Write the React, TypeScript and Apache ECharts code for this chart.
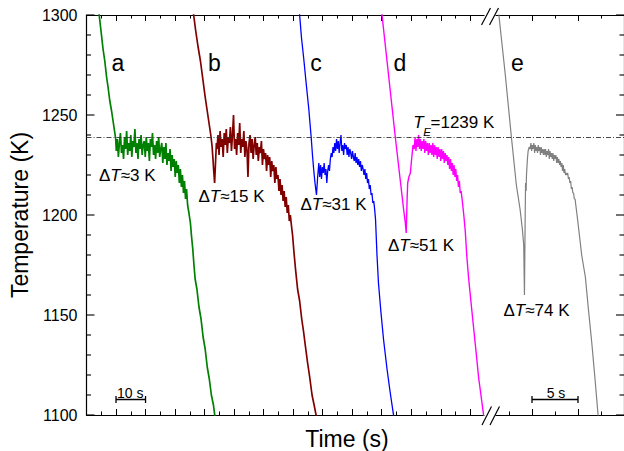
import React, { useEffect, useRef } from "react";
import * as echarts from "echarts";

const FONT = '"Liberation Sans", Arial, Helvetica, sans-serif';

// ---- axes ----
const tempMin = 1100;
const tempMax = 1300;
const tempStep = 50;
const tempTicks = [1100, 1110, 1120, 1130, 1140, 1150, 1160, 1170, 1180, 1190, 1200, 1210, 1220, 1230, 1240, 1250, 1260, 1270, 1280, 1290, 1300];
const leftTimeMax = 140; // s, left section (break at ~135 s)
const leftMajorTicks = [0, 10, 20, 30, 40, 50, 60, 70, 80, 90, 100, 110, 120, 130];
const rightTimeMax = 15; // s, right section after the axis break
const TE = 1239;

// ---- trace a (ΔT≈3 K) ----
const aHead: [number, number][] = [[3.9, 1305], [4.3, 1300], [5.0, 1291], [5.6, 1283], [6.2, 1277], [6.8, 1269], [7.3, 1264], [7.9, 1257], [8.5, 1252], [9.0, 1247], [9.5, 1242], [9.9, 1238]];
const aNoiseStart = 10.1;
const aNoiseStep = 0.35;
const aNoise = [
  1232, 1238, 1229, 1236, 1241, 1231, 1235, 1228, 1239, 1233,
  1242, 1230, 1236, 1232, 1240, 1229, 1237, 1234, 1243, 1231,
  1236, 1228, 1238, 1233, 1240, 1230, 1235, 1237, 1229, 1239,
  1232, 1236, 1227, 1238, 1234, 1241, 1230, 1235, 1228, 1237,
  1231, 1239, 1229, 1233, 1236,
  1226, 1234, 1228, 1236, 1225, 1231, 1227, 1233, 1222, 1230,
  1224, 1228, 1219, 1227, 1221, 1225, 1216, 1223, 1214, 1220,
  1211, 1217, 1208, 1213, 1205,
];
const aTail: [number, number][] = [[34.7, 1201], [35.2, 1196], [35.6, 1189], [36.0, 1183], [36.4, 1175], [36.8, 1168], [37.4, 1163], [38.1, 1154], [38.8, 1148], [39.5, 1139], [40.2, 1133], [40.9, 1124], [41.6, 1118], [42.3, 1110], [43.0, 1105], [43.7, 1097]];

// ---- trace b (ΔT≈15 K) ----
const bHead: [number, number][] = [[36.0, 1304], [36.3, 1300], [37.0, 1292], [37.8, 1284], [38.6, 1277], [39.4, 1268], [40.2, 1259], [41.0, 1251], [41.6, 1245], [42.1, 1240], [42.5, 1235], [42.8, 1229], [43.1, 1222], [43.4, 1216], [43.7, 1226], [44.0, 1236]];
const bNoiseStart = 44.2;
const bNoiseStep = 0.35;
const bNoise = [
  1233, 1240, 1230, 1242, 1234, 1238, 1229, 1241, 1235, 1243,
  1231, 1239, 1236, 1244, 1232, 1240, 1250, 1233, 1238, 1230,
  1241, 1235, 1246, 1231, 1238, 1234, 1242, 1229, 1237, 1233,
  1219, 1236, 1240, 1231, 1238, 1228, 1235, 1239, 1230, 1236,
  1227, 1234, 1231, 1237, 1225, 1233, 1228, 1231, 1222, 1230,
  1225, 1229, 1219, 1227, 1222, 1225, 1216, 1224, 1218, 1220,
  1212, 1218, 1210, 1215, 1207, 1212, 1204, 1209, 1201, 1205,
  1197, 1200, 1195,
];
const bTail: [number, number][] = [[69.8, 1190], [70.3, 1181], [70.8, 1173], [71.5, 1163], [72.2, 1157], [72.9, 1148], [73.5, 1142], [74.1, 1135], [74.9, 1126], [75.6, 1119], [76.4, 1110], [77.1, 1105], [77.9, 1099]];

// ---- trace c (ΔT≈31 K) ----
const cHead: [number, number][] = [[72.0, 1303], [72.2, 1300], [72.8, 1289], [73.6, 1278], [74.4, 1266], [75.3, 1253], [76.1, 1239], [76.6, 1229], [77.0, 1222], [77.4, 1216], [77.9, 1210], [78.3, 1219], [78.7, 1226]];
const cNoiseStart = 79.0;
const cNoiseStep = 0.3;
const cNoise = [
  1219, 1225, 1218, 1224, 1221, 1226, 1220, 1223, 1216, 1222,
  1225, 1222, 1228, 1231, 1229, 1234, 1231, 1236, 1232, 1238,
  1233, 1237, 1231, 1236, 1240, 1232, 1235, 1230, 1236, 1233,
  1235, 1230, 1234, 1229, 1233, 1231, 1228, 1232, 1229, 1227,
  1231, 1226, 1229, 1225, 1228, 1224, 1227, 1222, 1225, 1223,
  1220, 1223, 1218, 1221, 1216, 1218, 1213, 1215, 1210, 1211,
  1206, 1207, 1203,
];
const cTail: [number, number][] = [[97.9, 1198], [98.4, 1180], [98.9, 1166], [99.7, 1152], [100.6, 1138], [101.8, 1123], [102.8, 1112], [104.1, 1099]];

// ---- trace d (ΔT≈51 K) ----
const dHead: [number, number][] = [[99.9, 1302], [100.1, 1300], [104.6, 1239], [107.4, 1203], [108.0, 1196], [108.3, 1191], [108.6, 1208], [108.8, 1216], [109.2, 1219], [109.7, 1221], [110.2, 1229], [110.6, 1235]];
const dNoiseStart = 111.0;
const dNoiseStep = 0.3;
const dNoise = [
  1233, 1239, 1232, 1238, 1234, 1240, 1233, 1238, 1232, 1237,
  1233, 1238, 1231, 1237, 1232, 1236, 1230, 1236, 1231, 1235,
  1230, 1236, 1229, 1235, 1230, 1234, 1228, 1234, 1229, 1233,
  1227, 1233, 1228, 1232, 1226, 1231, 1227, 1230, 1225, 1229,
  1223, 1228, 1222, 1226, 1220, 1225, 1219, 1223, 1217, 1220,
  1214, 1217, 1211, 1212,
];
const dTail: [number, number][] = [[127.3, 1207], [127.8, 1200], [128.3, 1192], [128.8, 1180], [129.4, 1169], [130.2, 1157], [131.1, 1144], [132.0, 1131], [132.8, 1119], [133.7, 1109], [134.6, 1099]];

// ---- trace e (ΔT≈74 K), right section ----
const eHead: [number, number][] = [[1.3, 1303], [1.4, 1300], [2.1, 1270], [2.76, 1239], [3.3, 1215], [3.7, 1203], [3.95, 1193], [4.1, 1185], [4.18, 1160], [4.26, 1200], [4.3, 1216], [4.36, 1212], [4.4, 1220], [4.5, 1228], [4.58, 1232], [4.7, 1234]];
const eNoiseStart = 4.8;
const eNoiseStep = 0.08;
const eNoise = [
  1233, 1236, 1232, 1235, 1233, 1236, 1231, 1235, 1232, 1234,
  1231, 1235, 1232, 1234, 1230, 1234, 1231, 1233, 1230, 1233,
  1230, 1233, 1229, 1232, 1230, 1233, 1228, 1232, 1229, 1231,
  1228, 1231, 1227, 1230, 1228, 1230, 1226, 1229, 1226, 1228,
  1225, 1227, 1224, 1226, 1222, 1225, 1221, 1223, 1220, 1221,
  1220, 1221, 1218, 1219, 1216, 1217, 1213, 1214, 1211, 1211,
  1208, 1208, 1205,
];
const eTail: [number, number][] = [[9.95, 1198], [10.15, 1190], [10.4, 1180], [10.8, 1169], [11.15, 1152], [11.5, 1136], [11.85, 1118], [12.2, 1099]];

// ---- scale bars ----
const scaleBarLeft: [number, number] = [10, 20]; // 10 s
const scaleBarRight: [number, number] = [5, 10]; // 5 s
const scaleBarTemp = 1107.75;

const colors = { a: "#008000", b: "#800000", c: "#0000ff", d: "#ff00ff", e: "#808080" };

type Pt = [number, number];
function build(head: Pt[], start: number, step: number, vals: number[], tail: Pt[]): Pt[] {
  return [
    ...head,
    ...vals.map((v, i) => [Math.round((start + i * step) * 1000) / 1000, v] as Pt),
    ...tail,
  ];
}

const black = "#000";

function txt(x: number, y: number, text: string, size: number, align = "left", extra: any = {}) {
  return {
    type: "text",
    x,
    y,
    z: 100,
    style: {
      text,
      fill: black,
      fontSize: size,
      fontFamily: FONT,
      align,
      textAlign: align,
      verticalAlign: "middle",
      textVerticalAlign: "middle",
      ...extra,
    },
  };
}

function deltaLabel(x: number, y: number, value: string) {
  return txt(x, y, `{n|Δ}{i|T}{n|≈${value} K}`, 17, "left", {
    rich: {
      n: { fontSize: 17, fontFamily: FONT, fill: black },
      i: { fontSize: 17, fontFamily: FONT, fontStyle: "italic", fill: black },
    },
  });
}

export default function App() {
  const ref = useRef<HTMLDivElement>(null);
  useEffect(() => {
    const chart = echarts.init(ref.current!, null, { renderer: "svg" });

    // x ticks point into the plot: negative length
    const xBase = (gridIndex: number, position: string, max: number, interval: number, custom?: number[]) => ({
      type: "value",
      gridIndex,
      position,
      min: 0,
      max,
      interval,
      axisLine: { show: true, onZero: false, lineStyle: { color: black, width: 1.2 } },
      axisTick: {
        show: true,
        length: -6,
        ...(custom ? { customValues: custom } : {}),
      },
      minorTick: { show: true, splitNumber: 2, length: -3.5 },
      axisLabel: { show: false },
      splitLine: { show: false },
      minorSplitLine: { show: false },
    });

    const yMain = (gridIndex: number, position: string, showLabel: boolean) => ({
      type: "value",
      gridIndex,
      position,
      min: tempMin,
      max: tempMax,
      interval: tempStep,
      axisLine: { show: true, onZero: false, lineStyle: { color: black, width: 1.2 } },
      axisTick: { show: false },
      axisLabel: {
        show: showLabel,
        color: black,
        fontSize: 16,
        fontFamily: FONT,
        margin: 9,
        formatter: (v: number) => String(v),
      },
      splitLine: { show: false },
    });

    const trace = (name: string, data: Pt[], color: string, width: number, xi: number, yi: number, extra: any = {}) => ({
      name,
      type: "line",
      xAxisIndex: xi,
      yAxisIndex: yi,
      data,
      symbol: "none",
      showSymbol: false,
      clip: true,
      lineStyle: { color, width },
      itemStyle: { color },
      z: 3,
      ...extra,
    });

    const teMark = {
      silent: true,
      symbol: ["none", "none"],
      label: { show: false },
      lineStyle: { color: "#333", width: 0.9, type: [5, 2, 1, 2] },
      data: [{ yAxis: TE }],
    };

    const scaleBar = (data: Pt[], xi: number, yi: number) => ({
      type: "line",
      xAxisIndex: xi,
      yAxisIndex: yi,
      data,
      symbol: "rect",
      symbolSize: [1.3, 7],
      showSymbol: true,
      lineStyle: { color: black, width: 1.3 },
      itemStyle: { color: black },
      z: 4,
      silent: true,
    });

    const yName = {
      name: "Temperature (K)",
      nameLocation: "middle",
      nameGap: 55,
      nameTextStyle: { fontSize: 23, fontFamily: FONT, color: black },
    };

    const baseGraphics: any[] = [
      // axis breaks
      { type: "rect", z: 90, shape: { x: 484.5, y: 11.5, width: 11, height: 12 }, style: { fill: "#fff" } },
      { type: "rect", z: 90, shape: { x: 484.5, y: 406, width: 11, height: 12 }, style: { fill: "#fff" } },
      { type: "line", z: 91, shape: { x1: 481.5, y1: 25, x2: 490.5, y2: 8 }, style: { stroke: black, lineWidth: 1.2 } },
      { type: "line", z: 91, shape: { x1: 489.5, y1: 25, x2: 498.5, y2: 8 }, style: { stroke: black, lineWidth: 1.2 } },
      { type: "line", z: 91, shape: { x1: 482, y1: 425, x2: 491.5, y2: 406.5 }, style: { stroke: black, lineWidth: 1.2 } },
      { type: "line", z: 91, shape: { x1: 490, y1: 425, x2: 499.5, y2: 406.5 }, style: { stroke: black, lineWidth: 1.2 } },
      // curve letters
      txt(118, 62.5, "a", 23, "center"),
      txt(214.5, 62.5, "b", 23, "center"),
      txt(316, 62.5, "c", 23, "center"),
      txt(400, 62.5, "d", 23, "center"),
      txt(517.5, 62.5, "e", 23, "center"),
      // undercooling labels
      deltaLabel(99, 175.5, "3"),
      deltaLabel(198.5, 196.5, "15"),
      deltaLabel(300.5, 204, "31"),
      deltaLabel(388, 245, "51"),
      deltaLabel(503.5, 310.5, "74"),
      // T_E label
      txt(413.3, 122, "T", 17, "left", { fontStyle: "italic" }),
      txt(423.3, 131.5, "E", 11.5, "left", { fontStyle: "italic" }),
      txt(430.5, 122, "=1239 K", 17, "left"),
      // scale bar labels
      txt(130.3, 393, "10 s", 14, "center"),
      txt(556, 393, "5 s", 14, "center"),
      // x axis title
      txt(347, 439, "Time (s)", 23, "center"),
    ];

    const option: any = {
      animation: false,
      backgroundColor: "#fff",
      textStyle: { fontFamily: FONT },
      grid: [
        { left: 86, top: 15, width: 413.8, height: 400, containLabel: false },
        { left: 486, top: 15, width: 140, height: 400, containLabel: false },
      ],
      xAxis: [
        xBase(0, "bottom", leftTimeMax, 10, leftMajorTicks),
        xBase(0, "top", leftTimeMax, 10, leftMajorTicks),
        xBase(1, "bottom", rightTimeMax, 5),
        xBase(1, "top", rightTimeMax, 5),
      ],
      yAxis: [
        { ...yMain(0, "left", true), ...yName },
        yMain(1, "right", false),
      ],
      series: [
        trace("a", build(aHead, aNoiseStart, aNoiseStep, aNoise, aTail), colors.a, 1.7, 0, 0, { markLine: teMark }),
        trace("b", build(bHead, bNoiseStart, bNoiseStep, bNoise, bTail), colors.b, 1.7, 0, 0),
        trace("c", build(cHead, cNoiseStart, cNoiseStep, cNoise, cTail), colors.c, 1.3, 0, 0),
        trace("d", build(dHead, dNoiseStart, dNoiseStep, dNoise, dTail), colors.d, 1.4, 0, 0),
        trace("e", build(eHead, eNoiseStart, eNoiseStep, eNoise, eTail), colors.e, 1.2, 2, 1, { markLine: teMark }),
        scaleBar([[scaleBarLeft[0], scaleBarTemp], [scaleBarLeft[1], scaleBarTemp]], 0, 0),
        scaleBar([[scaleBarRight[0], scaleBarTemp], [scaleBarRight[1], scaleBarTemp]], 2, 1),
      ],
      graphic: baseGraphics,
    };

    chart.setOption(option);

    // inward temperature ticks on both frames, positioned through the y scale
    const tickGraphics: any[] = [];
    tempTicks.forEach((v) => {
      const len = v % tempStep === 0 ? 8 : 4.5;
      const pl = chart.convertToPixel({ gridIndex: 0 }, [0, v]) as number[];
      const pr = chart.convertToPixel({ gridIndex: 1 }, [rightTimeMax, v]) as number[];
      if (pl && isFinite(pl[0]) && isFinite(pl[1])) {
        tickGraphics.push({ type: "line", z: 50, silent: true, shape: { x1: pl[0], y1: pl[1], x2: pl[0] + len, y2: pl[1] }, style: { stroke: black, lineWidth: 1.1 } });
      }
      if (pr && isFinite(pr[0]) && isFinite(pr[1])) {
        tickGraphics.push({ type: "line", z: 50, silent: true, shape: { x1: pr[0], y1: pr[1], x2: pr[0] - len, y2: pr[1] }, style: { stroke: black, lineWidth: 1.1 } });
      }
    });
    chart.setOption({ graphic: [...baseGraphics, ...tickGraphics] });

    return () => chart.dispose();
  }, []);
  return <div ref={ref} style={{ position: "fixed", left: 0, top: 0, width: 624, height: 451 }} />;
}
